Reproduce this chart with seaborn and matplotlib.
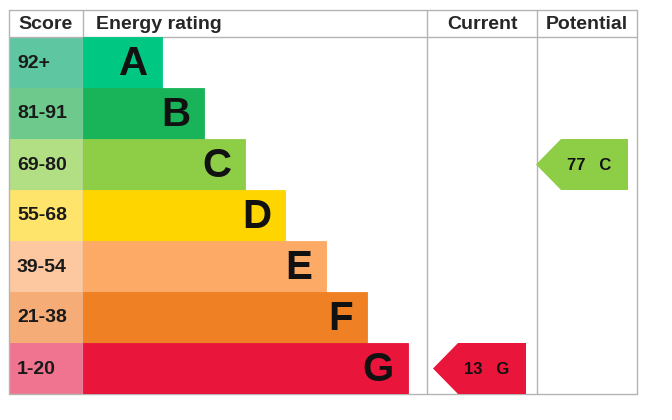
import matplotlib
matplotlib.use("Agg")
import matplotlib.pyplot as plt
from matplotlib.patches import Polygon
import seaborn as sns

# EPC bands, top (best) to bottom (worst)
bands = ['A', 'B', 'C', 'D', 'E', 'F', 'G']
score_ranges = ['92+', '81-91', '69-80', '55-68', '39-54', '21-38', '1-20']
bar_len = [79, 121, 162, 202, 243, 284, 325]
bar_colors = ['#00c781', '#19b459', '#8dce46', '#ffd500', '#fcaa65', '#ef8023', '#e9153b']
score_colors = ['#5ec6a1', '#6dca8c', '#b2df84', '#ffe46c', '#fdc8a0', '#f5ac77', '#f07490']

current_score = 13
current_band = 'G'
potential_score = 77
potential_band = 'C'

sns.set_style('white')
plt.rcParams['font.family'] = ['Liberation Sans', 'DejaVu Sans']

W, H = 672, 420
fig = plt.figure(figsize=(W / 100, H / 100), dpi=100)

# main axes in pixel units
ax = fig.add_axes([0, 0, 1, 1])
ax.set_xlim(0, W)
ax.set_ylim(H, 0)
ax.axis('off')

# table layout
x_left, x_score, x_cur, x_pot, x_right = 9, 83, 427, 537, 637
y_top, y_head, y_bot = 10, 37, 394
row_h = (y_bot - y_head) / len(bands)
row_mid = [y_head + row_h * (i + 0.5) for i in range(len(bands))]

# score column cells
cells = ax.barh(row_mid, x_score - x_left, left=x_left, height=row_h, color=score_colors,
                zorder=1)
for p in cells:
    p.set_edgecolor(p.get_facecolor())
    p.set_linewidth(0.6)
for i, s in enumerate(score_ranges):
    ax.text(x_left + 8, row_mid[i] + 0.5, s, ha='left', va='center', fontsize=14,
            weight='bold', color='#1a1a1a', zorder=3)

# grid lines
line_kw = dict(color='#b4b4b4', lw=1.0, zorder=2)
ax.plot([x_left, x_right], [y_top, y_top], **line_kw)
ax.plot([x_left, x_right], [y_head, y_head], **line_kw)
ax.plot([x_left, x_right], [y_bot, y_bot], **line_kw)
for x in [x_left, x_score, x_cur, x_pot, x_right]:
    ax.plot([x, x], [y_top, y_bot], **line_kw)

# headers
hy = (y_top + y_head) / 2 + 1
ax.text(x_left + 9, hy, 'Score', ha='left', va='center', fontsize=14, weight='bold')
ax.text(x_score + 13, hy, 'Energy rating', ha='left', va='center', fontsize=14, weight='bold')
ax.text((x_cur + x_pot) / 2, hy, 'Current', ha='center', va='center', fontsize=14, weight='bold')
ax.text((x_pot + x_right) / 2, hy, 'Potential', ha='center', va='center', fontsize=14, weight='bold')


def arrow(tip_x, right_x, band, score):
    i = bands.index(band)
    top = y_head + row_h * i
    bot = top + row_h
    notch = 25
    pts = [(tip_x, (top + bot) / 2), (tip_x + notch, top), (right_x, top),
           (right_x, bot), (tip_x + notch, bot)]
    ax.add_patch(Polygon(pts, closed=True, color=bar_colors[i], lw=0, zorder=3))
    ax.text((tip_x + right_x) / 2 + 7, (top + bot) / 2 + 0.5, f'{score}   {band}', ha='center',
            va='center', fontsize=12, weight='bold', color='#111111', zorder=4)


arrow(x_cur + 6, x_pot - 11, current_band, current_score)
arrow(x_pot - 1, x_right - 9, potential_band, potential_score)

# rating bars
bax = fig.add_axes([x_score / W, 1 - y_bot / H, (x_cur - x_score) / W, (y_bot - y_head) / H])
sns.barplot(x=bar_len, y=bands, hue=bands, palette=bar_colors, width=1.0,
            saturation=1, legend=False, ax=bax)
for p in bax.patches:
    p.set_edgecolor(p.get_facecolor())
    p.set_linewidth(0.6)
bax.set_xlim(0, x_cur - x_score)
bax.set_ylim(len(bands) - 0.5, -0.5)
bax.axis('off')
bax.patch.set_alpha(0)
for i, b in enumerate(bands):
    bax.text(bar_len[i] - 14, i + 0.02, b, ha='right', va='center', fontsize=29,
             weight='bold', color='#111111')

fig.savefig('out.png', dpi=100)
